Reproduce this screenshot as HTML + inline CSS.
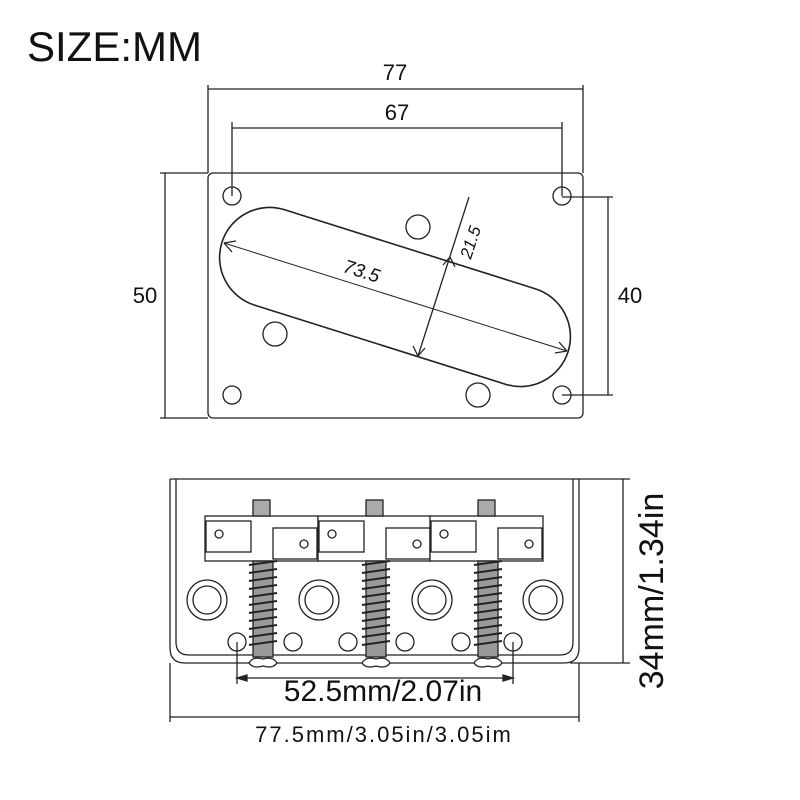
<!DOCTYPE html>
<html><head><style>
body{margin:0;background:#fff}
svg{display:block}
text{font-family:"Liberation Sans",sans-serif;fill:#111}
</style></head><body>
<svg width="800" height="800" viewBox="0 0 800 800" xmlns="http://www.w3.org/2000/svg">
<rect width="800" height="800" fill="#fff"/>
<text x="27" y="61" font-size="42">SIZE:MM</text>
<g stroke="#222" fill="none" stroke-width="1.3">
<rect x="208" y="173" width="375" height="245" rx="5"/>
<rect x="-181.5" y="-50" width="363" height="100" rx="50" transform="translate(395 297) rotate(17.5)" stroke-width="1.6"/>
<circle cx="232" cy="196" r="9"/><circle cx="562" cy="196" r="9"/>
<circle cx="232" cy="395" r="9"/><circle cx="562" cy="395" r="9"/>
<circle cx="418" cy="227" r="12"/><circle cx="275" cy="334" r="12"/><circle cx="478" cy="395" r="12"/>
<line x1="208" y1="85" x2="208" y2="173"/><line x1="583" y1="85" x2="583" y2="173"/>
<line x1="208" y1="89" x2="583" y2="89"/>
<line x1="232" y1="122" x2="232" y2="196"/><line x1="562" y1="122" x2="562" y2="196"/>
<line x1="232" y1="128" x2="562" y2="128"/>
<line x1="165" y1="173" x2="165" y2="418"/><line x1="160" y1="173" x2="208" y2="173"/><line x1="160" y1="418" x2="208" y2="418"/>
<line x1="608" y1="197" x2="608" y2="395"/><line x1="562" y1="197" x2="613" y2="197"/><line x1="562" y1="395" x2="613" y2="395"/>
<line x1="224" y1="243" x2="567" y2="351" stroke-width="1"/>
<line x1="469" y1="197" x2="418" y2="356"/>
<path d="M224 243 l12 -2 M224 243 l8 9 M567 351 l-12 2 M567 351 l-8 -9 M450 257 l-7 8 M450 257 l5 10 M418 356 l7 -8 M418 356 l-5 -10"/>
<line x1="170" y1="479" x2="630" y2="479"/>
<path d="M170 479 V648 Q170 663 185 663 H564 Q579 663 579 648 V479"/>
<path d="M176 479 V642 Q176 655 189 655 H560 Q573 655 573 642 V479"/>
<line x1="170" y1="663" x2="170" y2="722"/><line x1="579" y1="663" x2="579" y2="722"/>
<line x1="170" y1="717" x2="579" y2="717"/>
<line x1="623" y1="479" x2="623" y2="663"/><line x1="570" y1="663" x2="630" y2="663"/>
<line x1="237" y1="678" x2="513" y2="678"/>
<line x1="237" y1="642" x2="237" y2="684"/><line x1="513" y1="642" x2="513" y2="684"/>
<path d="M237 678 l10 -3 v6 z M513 678 l-10 -3 v6 z" fill="#222"/>
<circle cx="207" cy="600" r="20"/><circle cx="207" cy="600" r="14"/>
<circle cx="319" cy="600" r="20"/><circle cx="319" cy="600" r="14"/>
<circle cx="432" cy="600" r="20"/><circle cx="432" cy="600" r="14"/>
<circle cx="543" cy="600" r="20"/><circle cx="543" cy="600" r="14"/>
<circle cx="237" cy="642" r="9"/><circle cx="293" cy="642" r="9"/><circle cx="348" cy="642" r="9"/>
<circle cx="405" cy="642" r="9"/><circle cx="461" cy="642" r="9"/><circle cx="513" cy="642" r="9"/>
<g id="s">
<rect x="205" y="516" width="113" height="45" fill="#fff"/>
<rect x="206" y="521" width="45" height="31"/>
<rect x="273" y="528" width="44" height="31"/>
<circle cx="219" cy="534" r="4"/><circle cx="304" cy="544" r="4"/>
<rect x="253" y="500" width="17" height="16" fill="#aaa"/>
<rect x="253" y="561" width="20" height="96" fill="#999"/>
<path d="M249 565 l28 -4 M249 573 l28 -4 M249 581 l28 -4 M249 589 l28 -4 M249 597 l28 -4 M249 605 l28 -4 M249 613 l28 -4 M249 621 l28 -4 M249 629 l28 -4 M249 637 l28 -4 M249 645 l28 -4" stroke-width="2"/>
<path d="M249 663 q4 -7 14 -4 q10 -3 14 4 q-4 6 -14 3 q-10 3 -14 -3z" fill="#fff"/>
</g>
<use href="#s" x="113"/>
<use href="#s" x="225"/>
</g>
<text x="4" y="0" font-size="19" font-style="italic" text-anchor="middle" transform="translate(356 276) rotate(17.5)">73.5</text>
<text x="0" y="0" font-size="17" font-style="italic" text-anchor="middle" transform="translate(476 244) rotate(-72)">21.5</text>
<text x="395" y="80" font-size="22" text-anchor="middle">77</text>
<text x="397" y="120" font-size="22" text-anchor="middle">67</text>
<text x="145" y="303" font-size="22" text-anchor="middle">50</text>
<text x="630" y="303" font-size="22" text-anchor="middle">40</text>
<text x="383" y="701" font-size="30" text-anchor="middle">52.5mm/2.07in</text>
<text x="384" y="742" font-size="22" text-anchor="middle" letter-spacing="2">77.5mm/3.05in/3.05im</text>
<text x="0" y="0" font-size="34" text-anchor="middle" transform="translate(663 591) rotate(-90)">34mm/1.34in</text>
</svg>
</body></html>
